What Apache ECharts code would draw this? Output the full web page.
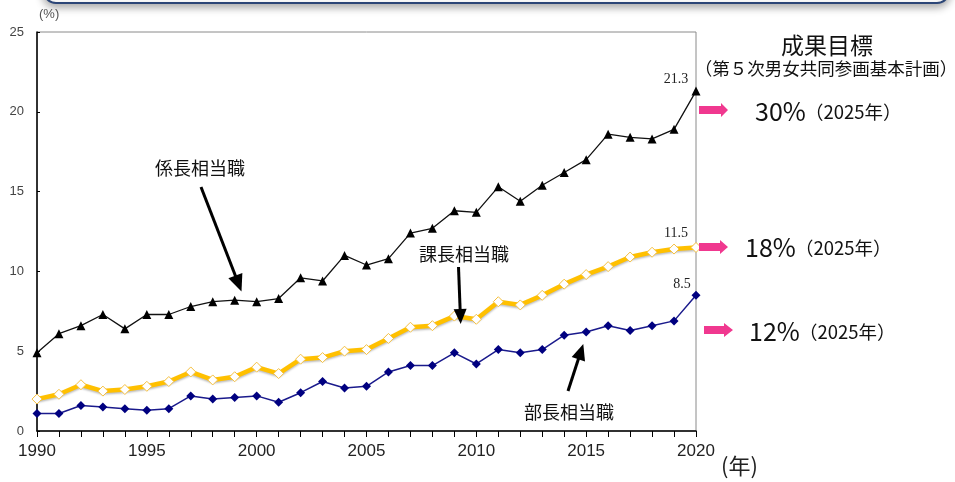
<!DOCTYPE html>
<html>
<head>
<meta charset="utf-8">
<script src="https://cdn.jsdelivr.net/npm/echarts@6/dist/echarts.min.js"></script>
<style>
html,body{margin:0;padding:0;background:#fff;}
#chart{width:955px;height:482px;}
</style>
</head>
<body>
<div id="chart"></div>
<script>
// ---- data ----
var years = ['1990','1991','1992','1993','1994','1995','1996','1997','1998','1999',
             '2000','2001','2002','2003','2004','2005','2006','2007','2008','2009',
             '2010','2011','2012','2013','2014','2015','2016','2017','2018','2019','2020'];
var kakarichoValues = [4.9,6.1,6.6,7.3,6.4,7.3,7.3,7.8,8.1,8.2,
                       8.1,8.3,9.6,9.4,11.0,10.4,10.8,12.4,12.7,13.8,
                       13.7,15.3,14.4,15.4,16.2,17.0,18.6,18.4,18.3,18.9,21.3];
var kachoValues = [2.0,2.3,2.9,2.5,2.6,2.8,3.1,3.7,3.2,3.4,
                   4.0,3.6,4.5,4.6,5.0,5.1,5.8,6.5,6.6,7.2,
                   7.0,8.1,7.9,8.5,9.2,9.8,10.3,10.9,11.2,11.4,11.5];
var buchoValues = [1.1,1.1,1.6,1.5,1.4,1.3,1.4,2.2,2.0,2.1,
                   2.2,1.8,2.4,3.1,2.7,2.8,3.7,4.1,4.1,4.9,
                   4.2,5.1,4.9,5.1,6.0,6.2,6.6,6.3,6.6,6.9,8.5];
var yTicks = [0,5,10,15,20,25];
var seriesNames = ['係長相当職','課長相当職','部長相当職'];
var targets = ['30%','18%','12%'];
var targetYear = '（2025年）';

var chart = echarts.init(document.getElementById('chart'));

function withLastLabel(arr){
  return arr.map(function(v,i){
    if(i===arr.length-1){
      return {value:v,label:{show:true}};
    }
    return v;
  });
}

function arrowLine(x1,y1,x2,y2,hl,hw,color,lw){
  var dx=x2-x1, dy=y2-y1, L=Math.sqrt(dx*dx+dy*dy);
  var ux=dx/L, uy=dy/L, px=-uy, py=ux;
  var bx=x2-ux*hl, by=y2-uy*hl;
  return [
    {type:'line',shape:{x1:x1,y1:y1,x2:bx+ux*2,y2:by+uy*2},style:{stroke:color,lineWidth:lw},z:10},
    {type:'polygon',shape:{points:[[x2,y2],[bx+px*hw/2,by+py*hw/2],[bx-px*hw/2,by-py*hw/2]]},style:{fill:color},z:10}
  ];
}
function blockArrow(x1,x2,xh,yc,bh,hh,color){
  return {type:'polygon',shape:{points:[[x1,yc-bh/2],[x2,yc-bh/2],[x2,yc-hh/2],[xh,yc],[x2,yc+hh/2],[x2,yc+bh/2],[x1,yc+bh/2]]},
          style:{fill:color},z:10};
}

var jp = '"Noto Sans CJK JP", "Noto Sans", sans-serif';
var narrow = '"Liberation Sans Narrow", "Liberation Sans", sans-serif';
var pink = '#F0388F';

var graphics = [
  {type:'rect',shape:{x:44,y:-40,width:905,height:43,r:12},
   style:{fill:'#fff',stroke:'#2C4677',lineWidth:2,shadowBlur:8,shadowColor:'rgba(0,0,0,0.35)',shadowOffsetY:3},z:1},
  {type:'text',left:39,top:8,style:{text:'(%)',font:'13px '+narrow,fill:'#555'}},
  {type:'text',left:721,top:455,style:{text:'(年)',font:'22px '+jp,fill:'#222'}},
  {type:'text',x:827,y:45,style:{text:'成果目標',font:'23px '+jp,fill:'#111',textAlign:'center',textVerticalAlign:'middle'}},
  {type:'text',x:826,y:68,style:{text:'（第５次男女共同参画基本計画）',font:'17.5px '+jp,fill:'#111',textAlign:'center',textVerticalAlign:'middle'}},
  {type:'text',x:755,y:111,style:{text:targets[0],font:'25px '+jp,fill:'#111',textVerticalAlign:'middle'}},
  {type:'text',x:805,y:112,style:{text:targetYear,font:'18.5px '+jp,fill:'#111',textVerticalAlign:'middle'}},
  {type:'text',x:745,y:247,style:{text:targets[1],font:'25px '+jp,fill:'#111',textVerticalAlign:'middle'}},
  {type:'text',x:795,y:248,style:{text:targetYear,font:'18.5px '+jp,fill:'#111',textVerticalAlign:'middle'}},
  {type:'text',x:749,y:331,style:{text:targets[2],font:'25px '+jp,fill:'#111',textVerticalAlign:'middle'}},
  {type:'text',x:799,y:332,style:{text:targetYear,font:'18.5px '+jp,fill:'#111',textVerticalAlign:'middle'}},
  blockArrow(699,721,728,110,8,14,pink),
  blockArrow(699,720,728,247,8,14,pink),
  blockArrow(704,724,733,330,8,14,pink),
  {type:'text',x:200,y:168,style:{text:seriesNames[0],font:'18px '+jp,fill:'#111',textAlign:'center',textVerticalAlign:'middle'},z:10},
  {type:'text',x:464,y:254,style:{text:seriesNames[1],font:'18px '+jp,fill:'#111',textAlign:'center',textVerticalAlign:'middle'},z:10},
  {type:'text',x:569,y:412,style:{text:seriesNames[2],font:'18px '+jp,fill:'#111',textAlign:'center',textVerticalAlign:'middle'},z:10}
];
graphics = graphics.concat(arrowLine(201,187,241.5,291.5,17,15,'#000',3));
graphics = graphics.concat(arrowLine(458.5,267,460.7,324,15,13,'#000',3));
graphics = graphics.concat(arrowLine(568,391,583.3,344,16,14,'#000',3));

var lastLabel = {show:false,position:'top',distance:0,offset:[-20,0],
                 fontFamily:'"Liberation Serif", serif',fontSize:14,color:'#222'};

chart.setOption({
  animation:false,
  backgroundColor:'#fff',
  grid:{left:37,right:259,top:32,bottom:51,show:true,borderColor:'#8a8a8a',borderWidth:1,backgroundColor:'transparent'},
  xAxis:{
    type:'category',data:years,boundaryGap:false,
    axisLine:{show:true,lineStyle:{color:'#000',width:1.5}},
    axisTick:{show:true,interval:0,length:6,inside:false,lineStyle:{color:'#000',width:1}},
    axisLabel:{interval:4,margin:12,fontFamily:narrow,fontSize:17,color:'#222'},
    splitLine:{show:false}
  },
  yAxis:{
    type:'value',min:yTicks[0],max:yTicks[yTicks.length-1],interval:5,
    axisLine:{show:true,lineStyle:{color:'#000',width:1.5}},
    axisTick:{show:true,inside:true,length:3,lineStyle:{color:'#000'}},
    axisLabel:{margin:13,fontFamily:narrow,fontSize:13,color:'#444'},
    splitLine:{show:false}
  },
  graphic:graphics,
  series:[
    {name:seriesNames[0],type:'line',data:withLastLabel(kakarichoValues),
     symbol:'triangle',symbolSize:9,
     lineStyle:{color:'#111',width:1.3},
     itemStyle:{color:'#000',borderColor:'#000',borderWidth:0},
     label:Object.assign({},lastLabel),z:5},
    {name:seriesNames[1],type:'line',data:withLastLabel(kachoValues),
     symbol:'diamond',symbolSize:10,
     lineStyle:{color:'#FFC000',width:4.5,shadowColor:'rgba(0,0,0,0.25)',shadowBlur:2,shadowOffsetY:1.5},
     itemStyle:{color:'#fff',borderColor:'#F5C040',borderWidth:1},
     label:Object.assign({},lastLabel,{offset:[-20,-2]}),z:4},
    {name:seriesNames[2],type:'line',data:withLastLabel(buchoValues),
     symbol:'diamond',symbolSize:9,
     lineStyle:{color:'#1A1A8C',width:1.5},
     itemStyle:{color:'#000080',borderWidth:0},
     label:Object.assign({},lastLabel,{offset:[-14,0]}),z:4}
  ]
});
</script>
</body>
</html>
